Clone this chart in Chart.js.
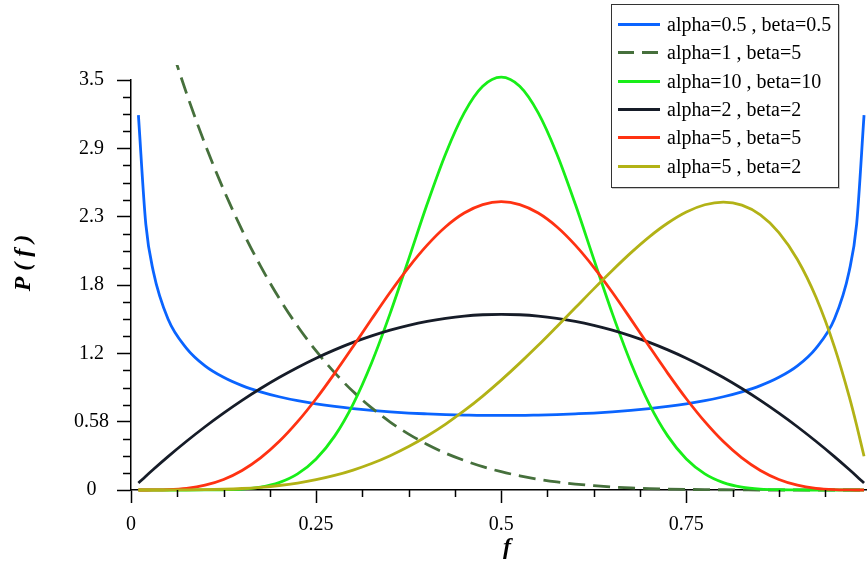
<!DOCTYPE html>
<html>
<head>
<meta charset="utf-8">
<title>Beta distributions</title>
<script src="https://cdn.jsdelivr.net/npm/chart.js@4/dist/chart.umd.min.js"></script>
<style>
  body { margin: 0; background: #fff; }
  .chart-box { position: relative; width: 867px; height: 564px; }
  .legend-box {
    position: absolute; left: 611px; top: 4px; width: 228px; height: 184px;
    box-sizing: border-box; border: 1.5px solid #333; background: #fff;
    box-shadow: 1px 1px 0 #c8c8c8; padding-top: 5.5px;
    font-family: 'Liberation Serif', 'Times New Roman', serif; font-size: 20px; color: #000;
  }
  .legend-row { height: 28.3px; display: flex; align-items: center; white-space: nowrap; }
  .legend-line { width: 42px; height: 3px; margin: 0 7px 0 6px; }
</style>
</head>
<body>
<div class="chart-box">
  <canvas id="betaChart" width="867" height="564"></canvas>
  <div class="legend-box" id="legend"></div>
</div>
<script>
// f sample points shared by every curve
const fValues = [0.01, 0.02, 0.03, 0.05, 0.075, 0.1, 0.125, 0.15, 0.175, 0.2, 0.225, 0.25,
  0.275, 0.3, 0.325, 0.35, 0.375, 0.4, 0.425, 0.45, 0.475, 0.5, 0.525, 0.55, 0.575, 0.6,
  0.625, 0.65, 0.675, 0.7, 0.725, 0.75, 0.775, 0.8, 0.825, 0.85, 0.875, 0.9, 0.925, 0.95,
  0.97, 0.98, 0.99];

const seriesLabels = ['alpha=0.5 , beta=0.5', 'alpha=1 , beta=5', 'alpha=10 , beta=10',
  'alpha=2 , beta=2', 'alpha=5 , beta=5', 'alpha=5 , beta=2'];

const a05b05 = [3.20, 2.27, 1.87, 1.46, 1.21, 1.06, 0.962, 0.891, 0.838, 0.796, 0.762, 0.735,
  0.713, 0.695, 0.680, 0.667, 0.657, 0.650, 0.644, 0.640, 0.637, 0.637, 0.637, 0.640, 0.644,
  0.650, 0.657, 0.667, 0.680, 0.695, 0.713, 0.735, 0.762, 0.796, 0.838, 0.891, 0.962, 1.06,
  1.21, 1.46, 1.87, 2.27, 3.20];

const a1b5 = [4.75, 4.52, 4.29, 3.87, 3.386, 2.952, 2.565, 2.219, 1.911, 1.638, 1.398, 1.187,
  1.002, 0.840, 0.701, 0.580, 0.477, 0.389, 0.314, 0.252, 0.199, 0.156, 0.121, 0.092, 0.069,
  0.051, 0.037, 0.026, 0.018, 0.012, 0.008, 0.005, 0.003, 0.002, 0.001, 0, 0, 0, 0, 0,
  0, 0, 0];

const a10b10 = [0, 0, 0, 0, 0, 0.0004, 0.0021, 0.0082, 0.0252, 0.0635, 0.138, 0.265, 0.460,
  0.734, 1.087, 1.508, 1.971, 2.441, 2.871, 3.219, 3.446, 3.524, 3.446, 3.219, 2.871, 2.441,
  1.971, 1.508, 1.087, 0.734, 0.460, 0.265, 0.138, 0.0635, 0.0252, 0.0082, 0.0021, 0.0004,
  0, 0, 0, 0, 0];

const a2b2 = [0.059, 0.118, 0.175, 0.285, 0.416, 0.54, 0.656, 0.765, 0.866, 0.96, 1.046, 1.125,
  1.196, 1.26, 1.316, 1.365, 1.406, 1.44, 1.466, 1.485, 1.496, 1.5, 1.496, 1.485, 1.466, 1.44,
  1.406, 1.365, 1.316, 1.26, 1.196, 1.125, 1.046, 0.96, 0.866, 0.765, 0.656, 0.54, 0.416,
  0.285, 0.175, 0.118, 0.059];

const a5b5 = [0, 0.0001, 0.0005, 0.0032, 0.0146, 0.0413, 0.0902, 0.167, 0.274, 0.413, 0.583,
  0.779, 0.996, 1.225, 1.459, 1.688, 1.901, 2.090, 2.247, 2.364, 2.436, 2.461, 2.436, 2.364,
  2.247, 2.090, 1.901, 1.688, 1.459, 1.225, 0.996, 0.779, 0.583, 0.413, 0.274, 0.167, 0.0902,
  0.0413, 0.0146, 0.0032, 0.0005, 0.0001, 0];

const a5b2 = [0, 0, 0, 0.0002, 0.0009, 0.0027, 0.0064, 0.0129, 0.0232, 0.0384, 0.0596, 0.0879,
  0.124, 0.170, 0.226, 0.293, 0.371, 0.461, 0.563, 0.677, 0.802, 0.938, 1.083, 1.235, 1.394,
  1.555, 1.717, 1.874, 2.024, 2.161, 2.279, 2.373, 2.435, 2.458, 2.432, 2.349, 2.198, 1.968,
  1.647, 1.222, 0.797, 0.553, 0.288];

const xTicks = [0, 0.25, 0.5, 0.75];
const xTickLabels = ['0', '0.25', '0.5', '0.75'];
const yTicks = [0, 0.5833, 1.1667, 1.75, 2.3333, 2.9167, 3.5];
const yTickLabels = ['0', '0.58', '1.2', '1.8', '2.3', '2.9', '3.5'];

const serif = "'Liberation Serif', 'Times New Roman', serif";

const lineStyles = [
  { color: '#0a64ff', dash: [] },
  { color: '#46703c', dash: [17, 8] },
  { color: '#18ee18', dash: [] },
  { color: '#161c28', dash: [] },
  { color: '#ff3212', dash: [] },
  { color: '#b2b216', dash: [] }
];

const seriesValues = [a05b05, a1b5, a10b10, a2b2, a5b5, a5b2];

const datasets = seriesValues.map((vals, i) => ({
  label: seriesLabels[i],
  data: fValues.map((f, k) => ({ x: f, y: vals[k] })),
  borderColor: lineStyles[i].color,
  borderDash: lineStyles[i].dash,
  borderWidth: 2.8,
  pointRadius: 0,
  cubicInterpolationMode: 'monotone',
  order: seriesValues.length - i,
  clip: { left: 5, top: 15, right: 5, bottom: 5 }
}));

// minor ticks plus the two axis titles
const axisExtras = {
  id: 'axisExtras',
  afterDraw(chart) {
    const { ctx } = chart;
    const x = chart.scales.x, y = chart.scales.y;
    ctx.save();
    ctx.strokeStyle = '#000';
    ctx.lineWidth = 1.5;
    ctx.beginPath();
    for (let i = 1; i * 0.0625 < x.max; i++) {
      if (i % 4 === 0) continue;
      const px = Math.round(x.getPixelForValue(i * 0.0625)) + 0.5;
      ctx.moveTo(px, y.bottom);
      ctx.lineTo(px, y.bottom + 7);
    }
    for (let i = 1; i < 24; i++) {
      if (i % 4 === 0) continue;
      const py = Math.round(y.getPixelForValue(3.5 * i / 24)) + 0.5;
      ctx.moveTo(x.left, py);
      ctx.lineTo(x.left - 8, py);
    }
    ctx.stroke();

    ctx.fillStyle = '#000';
    ctx.font = 'bold italic 24px ' + serif;
    ctx.textAlign = 'center';
    ctx.textBaseline = 'middle';
    ctx.fillText('f', 507, 548);
    ctx.translate(24, 263);
    ctx.rotate(-Math.PI / 2);
    ctx.fillText('P ( f )', 0, 0);
    ctx.restore();
  }
};

new Chart(document.getElementById('betaChart'), {
  type: 'line',
  data: { datasets },
  options: {
    responsive: false,
    animation: false,
    layout: { padding: { top: 80, right: 0, left: 0, bottom: 0 } },
    plugins: { legend: { display: false }, tooltip: { enabled: false } },
    scales: {
      x: {
        type: 'linear',
        min: 0,
        max: 0.994,
        afterFit: (scale) => { scale.height = 74; },
        afterBuildTicks: (scale) => { scale.ticks = xTicks.map(v => ({ value: v })); },
        ticks: {
          padding: 10,
          maxRotation: 0,
          color: '#000',
          font: { family: serif, size: 20 },
          callback: (v, i) => xTickLabels[i]
        },
        grid: { drawOnChartArea: false, tickLength: 13, tickColor: '#000', tickWidth: 1.5 },
        border: { color: '#000', width: 1.5 }
      },
      y: {
        type: 'linear',
        min: 0,
        max: 3.5,
        afterFit: (scale) => { scale.width = 131; },
        afterBuildTicks: (scale) => { scale.ticks = yTicks.map(v => ({ value: v })); },
        ticks: {
          padding: 8,
          crossAlign: 'center',
          color: '#000',
          font: { family: serif, size: 20 },
          callback: (v, i) => yTickLabels[i]
        },
        grid: { drawOnChartArea: false, tickLength: 14, tickColor: '#000', tickWidth: 1.5 },
        border: { color: '#000', width: 1.5 }
      }
    }
  },
  plugins: [axisExtras]
});

// legend box
const legend = document.getElementById('legend');
seriesLabels.forEach((label, i) => {
  const row = document.createElement('div');
  row.className = 'legend-row';
  const line = document.createElement('span');
  line.className = 'legend-line';
  const c = lineStyles[i].color;
  line.style.background = lineStyles[i].dash.length
    ? `repeating-linear-gradient(to right, ${c} 0 16px, transparent 16px 24px)`
    : c;
  const text = document.createElement('span');
  text.textContent = label;
  row.appendChild(line);
  row.appendChild(text);
  legend.appendChild(row);
});
</script>
</body>
</html>
